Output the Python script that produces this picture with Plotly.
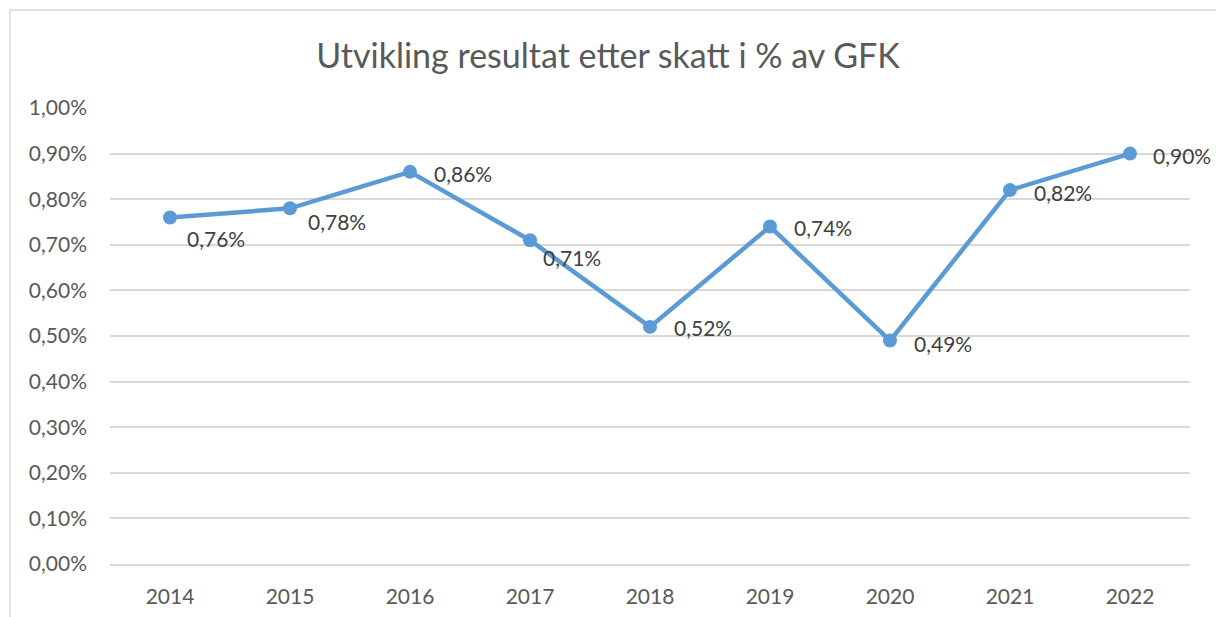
import plotly.graph_objects as go

years = ["2014", "2015", "2016", "2017", "2018", "2019", "2020", "2021", "2022"]
values = [0.76, 0.78, 0.86, 0.71, 0.52, 0.74, 0.49, 0.82, 0.90]  # percent
labels = ["0,76%", "0,78%", "0,86%", "0,71%", "0,52%", "0,74%", "0,49%", "0,82%", "0,90%"]
ytick_vals = [0.0, 0.1, 0.2, 0.3, 0.4, 0.5, 0.6, 0.7, 0.8, 0.9, 1.0]
ytick_text = ["0,00%", "0,10%", "0,20%", "0,30%", "0,40%", "0,50%", "0,60%", "0,70%", "0,80%", "0,90%", "1,00%"]

# label offsets (style: pixel nudges, as in the original)
label_dx = [46, 47, 53, 42, 53, 53, 53, 53, 52]
label_dy = [21, 13, 2, 17, 1, 1, 3, 2, 2]

FONT = "Lato, 'Open Sans', sans-serif"
LINE = "#5B9BD5"

fig = go.Figure()
fig.add_trace(go.Scatter(
    x=list(range(len(years))), y=values, mode="lines+markers",
    line=dict(color=LINE, width=4.5),
    marker=dict(color=LINE, size=14),
    hoverinfo="skip", showlegend=False, cliponaxis=False,
))

for i, (v, t) in enumerate(zip(values, labels)):
    fig.add_annotation(x=i, y=v, text=t, showarrow=False,
                       xanchor="center", yanchor="middle",
                       xshift=label_dx[i], yshift=-label_dy[i],
                       font=dict(family=FONT, size=21, color="#404040"))

W, H = 1216, 617
ml, mr, mt, mb = 110, 26, 108, 53
pw, ph = W - ml - mr, H - mt - mb

# outer chart border (left & top visible)
fig.add_shape(type="rect", xref="paper", yref="paper",
              x0=(10 - ml) / pw, x1=(W + 20 - ml) / pw,
              y0=-(mb + 20) / ph, y1=1 + (mt - 10) / ph,
              line=dict(color="#d9d9d9", width=1.5), fillcolor="rgba(0,0,0,0)", layer="below")

fig.update_layout(
    width=W, height=H,
    margin=dict(l=ml, r=mr, t=mt, b=mb, autoexpand=False),
    paper_bgcolor="white", plot_bgcolor="white",
    title=dict(text="Utvikling resultat etter skatt i % av GFK", x=0.5, xanchor="center",
               y=1 - 56 / H, yanchor="middle",
               font=dict(family=FONT, size=34, color="#595959")),
    xaxis=dict(range=[-0.5, len(years) - 0.5], tickmode="array",
               tickvals=list(range(len(years))), ticktext=years,
               showgrid=False, zeroline=False, showline=True, linecolor="#d9d9d9", linewidth=1.5,
               ticks="", ticklabelstandoff=13, automargin=False,
               tickfont=dict(family=FONT, size=21, color="#595959")),
    yaxis=dict(range=[0, 1.0], tickmode="array", tickvals=ytick_vals, ticktext=ytick_text,
               showgrid=True, gridcolor="#d9d9d9", gridwidth=1.5, zeroline=False,
               showline=False, ticks="", ticklabelstandoff=22, automargin=False,
               tickfont=dict(family=FONT, size=21, color="#595959")),
)

fig.write_html("out.html", config={"displayModeBar": False},
               post_script="document.body.style.margin='0';document.body.style.overflow='hidden';")
